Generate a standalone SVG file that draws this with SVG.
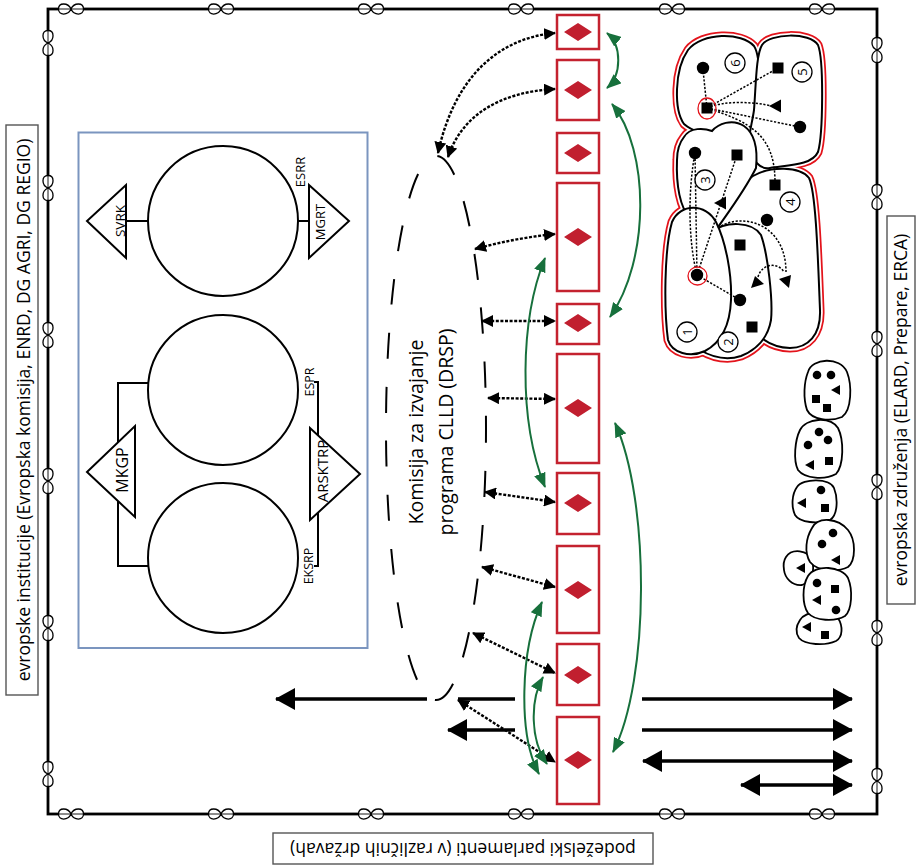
<svg xmlns="http://www.w3.org/2000/svg" width="916" height="866" viewBox="0 0 916 866">
<style>
text{font-family:"Open Sans","Noto Sans","DejaVu Sans",sans-serif;fill:#000}
.big{font-size:17.5px}
.cmt{font-size:19.5px}
.sm{font-size:13px}
.nm{font-size:13px}
.frame{fill:none;stroke:#000;stroke-width:2.8}
.lbl{fill:#fff;stroke:#555;stroke-width:1.4}
.ln{fill:none;stroke:#000;stroke-width:2}
.tri{fill:#fff;stroke:#000;stroke-width:2}
.circ{fill:#fff;stroke:#000;stroke-width:2}
.box{fill:#fff;stroke:#c4222f;stroke-width:2.5}
.dia{fill:#c11f2f}
.dot{fill:none;stroke:#000;stroke-width:2.4;stroke-dasharray:3 1.6}
.grn{fill:none;stroke:#17703c;stroke-width:2}
.har{fill:none;stroke:#000;stroke-width:3.5}
.ell{fill:none;stroke:#000;stroke-width:2;stroke-dasharray:26 28;stroke-dashoffset:11}
.bR{fill:#fff;stroke:#e3131b;stroke-width:9}
.bW{fill:#fff;stroke:#fff;stroke-width:5.5}
.bB{fill:#fff;stroke:#000;stroke-width:2}
.td{fill:none;stroke:#000;stroke-width:1.5;stroke-dasharray:2.2 1.6}
.num{fill:#fff;stroke:#000;stroke-width:1.3}
.ring{fill:none;stroke:#e3131b;stroke-width:1.3}
.sb{fill:#fff;stroke:#000;stroke-width:1.8}
.k{fill:#000}
</style>
<defs>
<marker id="ad" viewBox="0 0 12 12" refX="11" refY="6" markerWidth="12" markerHeight="12" markerUnits="userSpaceOnUse" orient="auto-start-reverse"><path d="M0 0L12 6L0 12Z" fill="#000"/></marker>
<marker id="ag" viewBox="0 0 15 12" refX="14" refY="6" markerWidth="15" markerHeight="12" markerUnits="userSpaceOnUse" orient="auto-start-reverse"><path d="M0 0L15 6L0 12Z" fill="#17703c"/></marker>
<marker id="ab" viewBox="0 0 20 22" refX="19" refY="11" markerWidth="20" markerHeight="22" markerUnits="userSpaceOnUse" orient="auto-start-reverse"><path d="M0 0L20 11L0 22Z" fill="#000"/></marker>
<g id="inf"><path d="M0 0C-3 -6.7 -12.5 -6.7 -12.5 0C-12.5 6.7 -3 6.7 0 0C3 -6.7 12.5 -6.7 12.5 0C12.5 6.7 3 6.7 0 0Z" fill="#fff" stroke="#000" stroke-width="1.3"/><path d="M-12.5 0H12.5" stroke="#000" stroke-width="0.9"/></g>
<path id="L6" d="M684 124C674 110 674 70 688 50C702 32 742 32 754 46C762 58 760 105 757 132C740 140 700 138 684 124Z"/>
<path id="L5" d="M762 45C770 33 810 32 818 45C824 60 823 135 818 152C812 165 790 165 770 168C760 170 752 160 750 148C747 138 752 125 754 110C756 85 756 55 762 45Z"/>
<path id="L4" d="M753 176C770 166 800 166 809 178C816 192 818 260 820 310C821 335 808 348 790 348C775 348 762 340 752 330L705 232C715 210 735 188 753 176Z"/>
<path id="L3" d="M684 137C690 127 704 128 712 131C718 124 732 118 744 126C754 133 758 148 756 168C745 190 730 210 716 230L690 218C680 208 676 185 677 160C677 150 680 142 684 137Z"/>
<path id="L2" d="M712 232C725 221 752 221 761 235C768 255 773 300 771 320C768 338 756 350 741 356C726 361 712 357 700 350L712 232Z"/>
<path id="L1" d="M672 222C680 203 706 203 716 222C726 242 732 275 731 300C730 325 722 342 705 351C690 358 672 353 668 340C664 310 664 250 672 222Z"/>
</defs>

<g id="frame">
<rect class="frame" x="48" y="9" width="829" height="805"/>
<use href="#inf" x="71" y="9"/><use href="#inf" x="221" y="9"/><use href="#inf" x="371" y="9"/><use href="#inf" x="521" y="9"/><use href="#inf" x="672" y="9"/><use href="#inf" x="822" y="9"/>
<use href="#inf" x="71" y="814"/><use href="#inf" x="221" y="814"/><use href="#inf" x="371" y="814"/><use href="#inf" x="521" y="814"/><use href="#inf" x="672" y="814"/><use href="#inf" x="822" y="814"/>
<use href="#inf" transform="translate(48,43) rotate(90)"/><use href="#inf" transform="translate(48,188) rotate(90)"/><use href="#inf" transform="translate(48,335) rotate(90)"/><use href="#inf" transform="translate(48,481) rotate(90)"/><use href="#inf" transform="translate(48,628) rotate(90)"/><use href="#inf" transform="translate(48,774) rotate(90)"/>
<use href="#inf" transform="translate(877,50) rotate(90)"/><use href="#inf" transform="translate(877,197) rotate(90)"/><use href="#inf" transform="translate(877,344) rotate(90)"/><use href="#inf" transform="translate(877,487) rotate(90)"/><use href="#inf" transform="translate(877,633) rotate(90)"/><use href="#inf" transform="translate(877,781) rotate(90)"/>
</g>

<g id="label-left"><rect class="lbl" x="6" y="125" width="32" height="570"/><text class="big" transform="translate(30,410) rotate(-90)" text-anchor="middle">evropske institucije (Evropska komisija, ENRD, DG AGRI, DG REGIO)</text></g>
<g id="label-right"><rect class="lbl" x="887" y="216" width="28" height="388"/><text class="big" transform="translate(907,410) rotate(-90)" text-anchor="middle">evropska združenja (ELARD, Prepare, ERCA)</text></g>
<g id="label-bottom"><rect class="lbl" x="273" y="833" width="380" height="31"/><text class="big" transform="translate(463,843) rotate(180)" text-anchor="middle">podeželski parlamenti (v različnih državah)</text></g>

<g id="institutions">
<rect x="78.5" y="132.5" width="289" height="515.5" fill="none" stroke="#7b95bf" stroke-width="2"/>
<path class="ln" d="M126 221H148M298 221H309"/>
<path class="ln" d="M148 383H118V566H148"/>
<path class="ln" d="M314 382H318V566H314"/>
<circle class="circ" cx="223" cy="221" r="75"/>
<circle class="circ" cx="223" cy="390" r="75"/>
<circle class="circ" cx="223" cy="558" r="75"/>
<polygon class="tri" points="126,185 126,258 87,221"/>
<polygon class="tri" points="309,185 309,258 349,221"/>
<polygon class="tri" points="135,426 135,517 87,472"/>
<polygon class="tri" points="310,428 310,520 360,474"/>
<text style="font-size:13.5px" transform="translate(125,221) rotate(-90)" text-anchor="middle">SVRK</text>
<text style="font-size:13px" transform="translate(325,222) rotate(-90)" text-anchor="middle">MGRT</text>
<text style="font-size:13px" transform="translate(305,172) rotate(-90)" text-anchor="middle">ESRR</text>
<text style="font-size:16px" transform="translate(128,470) rotate(-90)" text-anchor="middle">MKGP</text>
<text style="font-size:15px" transform="translate(328,471) rotate(-90)" text-anchor="middle">ARSKTRP</text>
<text style="font-size:12.5px" transform="translate(314,382) rotate(-90)" text-anchor="middle">ESPR</text>
<text style="font-size:12.5px" transform="translate(313,566) rotate(-90)" text-anchor="middle">EKSRP</text>
</g>

<g id="committee">
<ellipse class="ell" cx="436" cy="428" rx="50" ry="272"/>
<text class="cmt" transform="translate(436,432) rotate(-90)" text-anchor="middle"><tspan x="0" y="-13">Komisija za izvajanje</tspan><tspan x="0" y="17">programa CLLD (DRSP)</tspan></text>
</g>

<g id="lags">
<rect class="box" x="557" y="15" width="42" height="34"/><rect class="box" x="557" y="60" width="42" height="60"/><rect class="box" x="557" y="133" width="42" height="40"/><rect class="box" x="557" y="183" width="42" height="108"/><rect class="box" x="557" y="304" width="42" height="40"/><rect class="box" x="557" y="354" width="42" height="109"/><rect class="box" x="557" y="473" width="42" height="61"/><rect class="box" x="557" y="546" width="42" height="87"/><rect class="box" x="557" y="644" width="42" height="61"/><rect class="box" x="557" y="717" width="42" height="87"/>
<path class="dia" d="M564 32L578 23L592 32L578 41ZM564 90L578 81L592 90L578 99ZM564 153L578 144L592 153L578 162ZM564 237L578 228L592 237L578 246ZM564 323L578 314L592 323L578 332ZM564 408L578 399L592 408L578 417ZM564 503L578 494L592 503L578 512ZM564 590L578 581L592 590L578 599ZM564 675L578 666L592 675L578 684ZM564 760L578 751L592 760L578 769Z"/>
</g>

<g id="connectors">
<path class="dot" d="M438 153C455 75 500 38 555 33" marker-start="url(#ad)" marker-end="url(#ad)"/>
<path class="dot" d="M448 157C462 115 500 92 555 89" marker-start="url(#ad)" marker-end="url(#ad)"/>
<path class="dot" d="M475 249Q515 238 555 234" marker-start="url(#ad)" marker-end="url(#ad)"/>
<path class="dot" d="M482 321L555 321" marker-start="url(#ad)" marker-end="url(#ad)"/>
<path class="dot" d="M488 398L555 399" marker-start="url(#ad)" marker-end="url(#ad)"/>
<path class="dot" d="M485 492L555 502" marker-start="url(#ad)" marker-end="url(#ad)"/>
<path class="dot" d="M482 567L555 587" marker-start="url(#ad)" marker-end="url(#ad)"/>
<path class="dot" d="M473 633L555 673" marker-start="url(#ad)" marker-end="url(#ad)"/>
<path class="dot" d="M458 700L555 762" marker-start="url(#ad)" marker-end="url(#ad)"/>
<path class="grn" d="M607 33C622 45 622 75 607 88" marker-start="url(#ag)" marker-end="url(#ag)"/>
<path class="grn" d="M612 104C650 150 650 260 610 317" marker-start="url(#ag)" marker-end="url(#ag)"/>
<path class="grn" d="M615 423C650 500 650 680 613 752" marker-start="url(#ag)" marker-end="url(#ag)"/>
<path class="grn" d="M545 258C520 320 518 420 545 487" marker-start="url(#ag)" marker-end="url(#ag)"/>
<path class="grn" d="M542 602C520 650 518 735 539 774" marker-start="url(#ag)" marker-end="url(#ag)"/>
<path class="grn" d="M543 677C530 700 530 740 547 764" marker-start="url(#ag)" marker-end="url(#ag)"/>
<path class="har" d="M515 699H458M427 699H276" marker-end="url(#ab)"/>
<path class="har" d="M515 730H448" marker-end="url(#ab)"/>
<path class="har" d="M642 699H852" marker-end="url(#ab)"/>
<path class="har" d="M642 730H852" marker-end="url(#ab)"/>
<path class="har" d="M643 761H852" marker-start="url(#ab)" marker-end="url(#ab)"/>
<path class="har" d="M741 785H852" marker-start="url(#ab)" marker-end="url(#ab)"/>
</g>

<g id="lag-cluster">
<g class="bR"><use href="#L6"/><use href="#L5"/><use href="#L4"/><use href="#L3"/><use href="#L2"/><use href="#L1"/></g>
<g class="bW"><use href="#L6"/><use href="#L5"/><use href="#L4"/><use href="#L3"/><use href="#L2"/><use href="#L1"/></g>
<polygon points="750,150 768,165 768,173 754,177" fill="#fff"/>
<g class="bB"><use href="#L6"/><use href="#L5"/><use href="#L4"/><use href="#L3"/><use href="#L2"/><use href="#L1"/></g>
<path class="td" d="M707 108L703 70M707 108L778 68M707 108C725 100 755 102 772 106M707 108L800 127M707 108C750 122 775 135 775 182"/>
<path class="td" d="M697 275C688 240 688 190 695 153M697 275L695 153M697 275L737 155M697 275L740 300M718 228C740 212 786 222 786 272M758 277C762 263 778 262 784 272"/>
<g class="k">
<circle cx="703" cy="68" r="6.2"/><circle cx="800" cy="127" r="6.2"/><circle cx="695" cy="153" r="6.2"/><circle cx="767" cy="220" r="6.2"/><circle cx="697" cy="275" r="6.2"/><circle cx="740" cy="300" r="6.2"/>
<rect x="701.5" y="102.5" width="11" height="11"/><rect x="772.5" y="62.5" width="11" height="11"/><rect x="731.5" y="149.5" width="11" height="11"/><rect x="769.5" y="179.5" width="11" height="11"/><rect x="734.5" y="239.5" width="11" height="11"/><rect x="746.5" y="321.5" width="11" height="11"/>
<polygon points="769,106 781,99.5 781,112.5"/><polygon points="714,203 726,196.5 726,209.5"/><polygon points="751,288 755,276 764,284"/><polygon points="789,288 779,279 791,275"/>
</g>
<ellipse class="ring" cx="707" cy="108.5" rx="9" ry="10.5"/>
<ellipse class="ring" cx="697.5" cy="276" rx="9.5" ry="9"/>
<g class="num"><circle cx="735" cy="63" r="10"/><circle cx="802" cy="72" r="10"/><circle cx="705" cy="180" r="10"/><circle cx="790" cy="202" r="10"/><circle cx="687" cy="332" r="10"/><circle cx="728" cy="342" r="10"/></g>
<text class="nm" transform="translate(735,63) rotate(-90)" text-anchor="middle" dy="0.36em">6</text>
<text class="nm" transform="translate(802,72) rotate(-90)" text-anchor="middle" dy="0.36em">5</text>
<text class="nm" transform="translate(705,180) rotate(-90)" text-anchor="middle" dy="0.36em">3</text>
<text class="nm" transform="translate(790,202) rotate(-90)" text-anchor="middle" dy="0.36em">4</text>
<text class="nm" transform="translate(687,332) rotate(-90)" text-anchor="middle" dy="0.36em">1</text>
<text class="nm" transform="translate(728,342) rotate(-90)" text-anchor="middle" dy="0.36em">2</text>
</g>

<g id="associations">
<path class="sb" d="M808 372C812 358 840 356 847 372C852 385 852 410 842 417C830 422 812 420 807 410C803 398 804 382 808 372Z"/>
<path class="sb" d="M800 430C806 418 830 416 838 428C844 440 844 465 836 474C825 480 805 479 798 470C793 460 795 440 800 430Z"/>
<path class="sb" d="M797 487C803 478 830 478 834 488C838 498 838 515 830 520C818 524 800 523 795 515C791 506 792 494 797 487Z"/>
<path class="sb" d="M786 557C792 548 808 550 812 560C815 570 812 582 802 585C792 586 785 578 784 570C783 564 784 560 786 557Z"/>
<path class="sb" d="M812 528C818 516 838 518 848 530C856 540 856 560 848 567C838 572 818 572 810 562C804 552 806 538 812 528Z"/>
<path class="sb" d="M800 620C806 610 832 610 838 618C843 626 843 637 836 641C825 646 805 645 799 638C795 632 796 626 800 620Z"/>
<path class="sb" d="M808 576C815 564 842 566 848 578C853 590 852 610 845 616C835 622 815 621 808 613C802 604 802 586 808 576Z"/>
<g class="k">
<circle cx="817" cy="375" r="4.3"/><circle cx="831" cy="375" r="4.3"/><polygon points="831,390 840,385 840,395"/><rect x="812" y="395" width="8" height="8"/><rect x="823" y="404" width="8" height="8"/>
<circle cx="819" cy="432" r="4.3"/><circle cx="808" cy="445" r="4.3"/><circle cx="828" cy="440" r="4.3"/><polygon points="805,465 814,460 814,470"/><rect x="825" y="457" width="8" height="8"/>
<circle cx="821" cy="490" r="4.3"/><polygon points="797,503 806,498 806,508"/><rect x="821" y="504" width="8" height="8"/>
<circle cx="833" cy="533" r="4.3"/><circle cx="822" cy="544" r="4.3"/><polygon points="831,560 840,555 840,565"/>
<polygon points="796,568 805,563 805,573"/>
<circle cx="817" cy="583" r="4.3"/><polygon points="812,600 821,595 821,605"/><rect x="831" y="585" width="8" height="8"/><circle cx="836" cy="610" r="4.3"/>
<polygon points="802,627 811,622 811,632"/><rect x="821" y="631" width="8" height="8"/>
</g>
</g>
</svg>
